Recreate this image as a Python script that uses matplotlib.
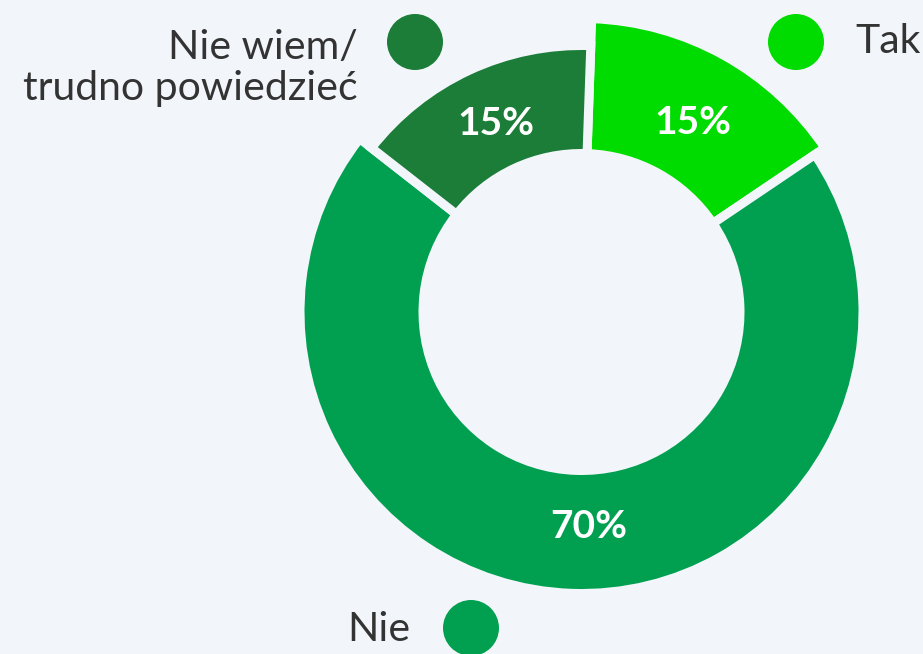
import matplotlib
matplotlib.use("Agg")
import matplotlib.pyplot as plt
from matplotlib.patches import Circle
import numpy as np

# ---- data ----
categories = ["Tak", "Nie", "Nie wiem/\ntrudno powiedzieć"]
values = [15, 70, 15]
labels = ["15%", "70%", "15%"]

# ---- style ----
colors = ["#00DC00", "#00A050", "#1B7D38"]
outer_r = [289, 277, 262]   # visible outer radius per slice (px)
inner_r = 163               # visible inner radius (px)
label_shift = [-1.5, 4.0, -0.5]  # degrees, label angle tweak
gap = 9                     # gap between slices (px)
bg = "#F2F6FA"
text_color = "#333333"
W, H = 923, 654
cx, cy = 581.5, H - 312

fig = plt.figure(figsize=(W / 100, H / 100), dpi=100, facecolor=bg)
ax = fig.add_axes([0, 0, 1, 1])
ax.set_facecolor(bg)

wedges, _ = ax.pie(values, colors=colors, startangle=88, counterclock=False,
                   center=(cx, cy), radius=300,
                   wedgeprops=dict(width=100, edgecolor=bg, linewidth=gap * 0.72))
ax.set_xlim(0, W)
ax.set_ylim(0, H)
ax.set_aspect("equal")
ax.axis("off")

for w, R, lab, sh in zip(wedges, outer_r, labels, label_shift):
    w.set_radius(R + gap / 2)
    w.set_width(R - inner_r + gap)
    ang = np.deg2rad((w.theta1 + w.theta2) / 2 + sh)
    rr = inner_r + 0.45 * (R - inner_r)
    ax.text(cx + rr * np.cos(ang), cy + rr * np.sin(ang), lab,
            color="white", fontsize=28, fontweight="bold", family="Lato",
            ha="center", va="center")

fs = 29.5
# legend markers + texts
ax.add_patch(Circle((796, H - 42), 28, color=colors[0], lw=0))
ax.text(855, H - 53, categories[0], fontsize=fs, family="Lato",
        color=text_color, ha="left", va="baseline")

ax.add_patch(Circle((415, H - 42), 28, color=colors[2], lw=0))
ax.text(358, H - 100, categories[2], fontsize=fs, family="Lato",
        color=text_color, ha="right", va="baseline", linespacing=1.12,
        multialignment="right")

ax.add_patch(Circle((471, H - 628), 28, color=colors[1], lw=0))
ax.text(410, H - 641, categories[1], fontsize=fs, family="Lato",
        color=text_color, ha="right", va="baseline")

fig.savefig("out.png", dpi=100, facecolor=bg)
